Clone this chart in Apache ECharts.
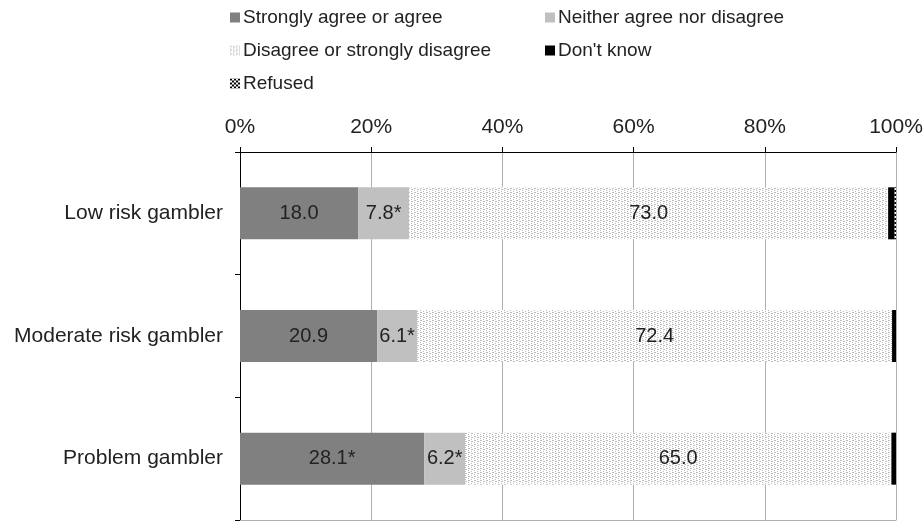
<!DOCTYPE html>
<html><head><meta charset="utf-8">
<script src="https://cdn.jsdelivr.net/npm/echarts@6/dist/echarts.min.js"></script>
<style>html,body{margin:0;padding:0;background:#fff}#c{width:923px;height:523px}</style>
</head><body><div id="c"></div>
<script>
const categories = ['Low risk gambler', 'Moderate risk gambler', 'Problem gambler'];
const seriesNames = ['Strongly agree or agree', 'Neither agree nor disagree', 'Disagree or strongly disagree', "Don't know", 'Refused'];
const agree = [18.0, 20.9, 28.1];
const neither = [7.8, 6.1, 6.2];
const disagree = [73.0, 72.4, 65.0];
const dontKnow = [1.0, 0.6, 0.7];
const refused = [0.2, 0, 0];
const agreeLabels = ['18.0', '20.9', '28.1*'];
const neitherLabels = ['7.8*', '6.1*', '6.2*'];
const disagreeLabels = ['73.0', '72.4', '65.0'];
const xTicks = [0, 20, 40, 60, 80, 100];

function makePattern(w, h, dots, dotColor, bg, size) {
  const c = document.createElement('canvas');
  c.width = w; c.height = h;
  const ctx = c.getContext('2d');
  ctx.fillStyle = bg; ctx.fillRect(0, 0, w, h);
  ctx.fillStyle = dotColor;
  dots.forEach(d => ctx.fillRect(d[0], d[1], size || 1, size || 1));
  return { image: c, repeat: 'repeat' };
}
const disPattern = makePattern(6, 4, [[0,0],[0,2],[3,1],[3,3],[1,0],[4,1]], '#bcbcbc', '#ffffff', 1);
const refPattern = makePattern(4, 4, [[0,0],[2,2]], '#000000', '#ffffff', 2);

const font = 'Liberation Sans, Arial, sans-serif';
const chart = echarts.init(document.getElementById('c'), null, { renderer: 'canvas' });

function legendAt(name, left, top) {
  return {
    data: [name], left: left, top: top, itemWidth: 10, itemHeight: 10, itemGap: 4,
    icon: 'rect', selectedMode: false, padding: 0,
    textStyle: { fontFamily: font, fontSize: 19, color: '#222', padding: [0, 0, 0, -2] }
  };
}
function labelCfg(arr) {
  return {
    show: true, position: 'inside', fontFamily: font, fontSize: 20, color: '#222',
    formatter: p => arr[p.dataIndex]
  };
}
const data = [agree, neither, disagree, dontKnow, refused];
const colors = ['#808080', '#c0c0c0', disPattern, '#000000', refPattern];
const labels = [agreeLabels, neitherLabels, disagreeLabels, null, null];

chart.setOption({
  animation: false,
  legend: [
    legendAt(seriesNames[0], 230, 8),
    legendAt(seriesNames[1], 545, 8),
    legendAt(seriesNames[2], 230, 41),
    legendAt(seriesNames[3], 545, 41),
    legendAt(seriesNames[4], 230, 74)
  ],
  grid: { left: 240, right: 27, top: 152, bottom: 3, containLabel: false, outerBoundsMode: 'none' },
  xAxis: [{
    type: 'value', position: 'top', min: 0, max: 100, interval: 20,
    axisLine: { show: true, lineStyle: { color: '#000', width: 1 } },
    axisTick: { show: true, length: 5, lineStyle: { color: '#000' } },
    axisLabel: { formatter: v => xTicks.includes(v) ? v + '%' : '', fontFamily: font, fontSize: 21, color: '#222', margin: 14 },
    splitLine: { show: true, lineStyle: { color: '#b0b0b0', width: 1 } }
  }, {
    type: 'value', position: 'bottom', min: 0, max: 100, interval: 20,
    axisLine: { show: true, lineStyle: { color: '#b0b0b0', width: 1 } },
    axisTick: { show: false }, axisLabel: { show: false }, splitLine: { show: false }
  }],
  yAxis: {
    type: 'category', data: categories, inverse: true,
    axisLine: { show: true, lineStyle: { color: '#000', width: 1 } },
    axisTick: { show: true, length: 5, lineStyle: { color: '#000' } },
    axisLabel: { fontFamily: font, fontSize: 21, color: '#222', margin: 17 }
  },
  series: data.map((d, i) => ({
    name: seriesNames[i], type: 'bar', stack: 'total', data: d,
    xAxisIndex: 0, barWidth: 52,
    itemStyle: { color: colors[i] },
    label: labels[i] ? labelCfg(labels[i]) : { show: false }
  }))
});
</script></body></html>
